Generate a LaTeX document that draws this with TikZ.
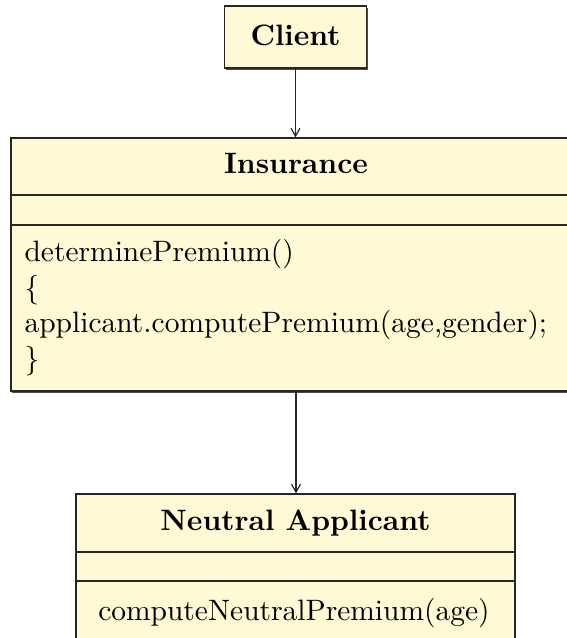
\documentclass[tikz,border=0pt]{standalone}
\usetikzlibrary{arrows.meta,shadows}
\newdimen\px \px=0.339pt
\definecolor{classfill}{RGB}{255,249,214}
\tikzset{
  umlbox/.style={rectangle, draw=black!85, line width=0.4pt, fill=classfill,
    inner sep=0pt,
    drop shadow={shadow xshift=1.5\px, shadow yshift=-1.5\px, fill=black!70, opacity=1}},
  sepline/.style={draw=black!85, line width=0.4pt},
  classname/.style={anchor=base, font=\bfseries, inner sep=0pt},
  classtext/.style={anchor=base, inner sep=0pt},
  assoc/.style={draw=black!85, line width=0.4pt, -{Straight Barb[length=2.7pt,width=3pt]}}
}
\begin{document}
\begin{tikzpicture}[x=\px, y=-\px]
  \useasboundingbox (0,0) rectangle (567,638);
  \clip (0,0) rectangle (567,638);

  % Client class
  \node[umlbox, minimum width=142\px, minimum height=62\px] (client) at (295.5,37) {};
  \node[classname] (clientname) at (295.5,45) {Client};

  % Insurance class
  \node[umlbox, minimum width=570\px, minimum height=253\px] (ins) at (296,264.5) {};
  \draw[sepline] (11,195) -- (581,195);
  \draw[sepline] (11,225) -- (581,225);
  \node[classname] (insname) at (296,173) {Insurance};
  % base anchor of a multi-line node sits on its last line
  \node[classtext, anchor=base west, align=left] (insops) at (24,368)
    {determinePremium()\\ \{\\ applicant.computePremium(age,gender);\\ \}};

  % Neutral Applicant class
  \node[umlbox, minimum width=439\px, minimum height=149\px] (na) at (295.5,568.5) {};
  \draw[sepline] (76,552) -- (515,552);
  \draw[sepline] (76,581) -- (515,581);
  \node[classname] (naname) at (295.5,530) {Neutral Applicant};
  \node[classtext] (naops) at (294,620) {computeNeutralPremium(age)};

  % associations
  \draw[assoc] (client.south) -- (client.south |- ins.north);
  \draw[assoc] (ins.south) -- (ins.south |- na.north);
\end{tikzpicture}
\end{document}
